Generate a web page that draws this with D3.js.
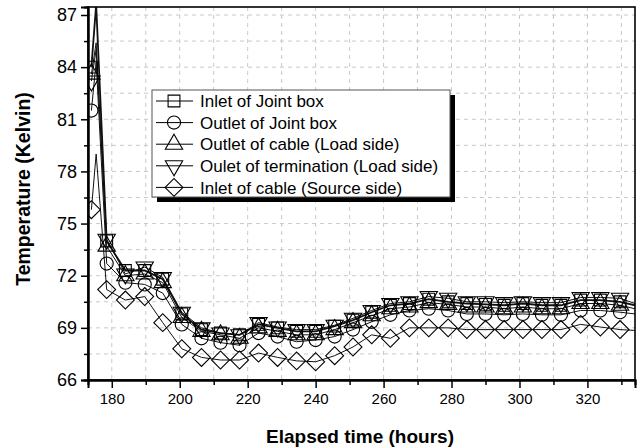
<!DOCTYPE html>
<html>
<head>
<meta charset="utf-8">
<script src="https://cdn.jsdelivr.net/npm/d3@7"></script>
<style>
    body { margin: 0; background: #fff; }
    svg { display: block; font-family: "Liberation Sans", Arial, sans-serif; }
</style>
</head>
<body>
<svg id="chart" width="644" height="447"></svg>
<script>
// marker positions (hours) shared by every series
const hours = [174, 178.5, 184, 189.7, 195, 200.6, 206.4, 212, 217.6, 223.2, 228.8, 234.4, 240, 245.6, 251,
    256.5, 262, 267.6, 273.3, 279, 284.5, 290, 295.5, 301, 306.6, 312.2, 318, 323.8, 329.6];

const inletJointBox = [84.0, 74.0, 72.3, 72.3, 71.8, 69.8, 68.9, 68.7, 68.6, 69.2, 69.0, 68.8, 68.8, 69.1, 69.45,
    69.9, 70.3, 70.4, 70.65, 70.5, 70.4, 70.35, 70.3, 70.4, 70.3, 70.3, 70.6, 70.6, 70.5];
const outletJointBox = [81.5, 72.7, 71.6, 71.5, 71.0, 69.2, 68.4, 68.15, 68.0, 68.7, 68.5, 68.2, 68.3, 68.5, 68.9,
    69.35, 69.75, 70.0, 70.1, 70.0, 69.8, 69.8, 69.75, 69.8, 69.75, 69.75, 70.0, 70.0, 69.9];
const outletCable = [83.6, 73.7, 72.0, 72.1, 71.6, 69.6, 68.8, 68.6, 68.4, 69.0, 68.8, 68.6, 68.6, 68.9, 69.3,
    69.7, 70.1, 70.2, 70.45, 70.35, 70.2, 70.2, 70.1, 70.2, 70.1, 70.1, 70.4, 70.4, 70.3];
const outletTermination = [83.2, 74.1, 72.1, 72.5, 71.9, 69.9, 69.0, 68.7, 68.6, 69.3, 69.05, 68.9, 68.9, 69.15, 69.55,
    70.0, 70.4, 70.5, 70.8, 70.7, 70.5, 70.5, 70.45, 70.5, 70.45, 70.45, 70.75, 70.75, 70.7];
const inletCable = [75.8, 71.2, 70.6, 70.8, 69.3, 67.8, 67.3, 67.15, 67.15, 67.55, 67.3, 67.1, 67.05, 67.4, 67.9,
    68.6, 68.4, 69.0, 69.0, 69.0, 68.9, 68.9, 68.9, 68.9, 68.9, 68.9, 69.2, 69.05, 68.9];

// early transient peak (no marker) and last recorded value (no marker)
const spikeHour = 175.4;
const spikes = [87.6, 84.3, 85.4, 85.0, 79.0];
const endHour = 334;
const endValues = [70.3, 69.8, 70.1, 70.4, 68.85];

const seriesNames = ["Inlet of Joint box", "Outlet of Joint box", "Outlet of cable (Load side)",
    "Oulet of termination (Load side)", "Inlet of cable (Source side)"];
const seriesValues = [inletJointBox, outletJointBox, outletCable, outletTermination, inletCable];
const seriesSymbols = ["square", "circle", "triangle", "triangleDown", "diamond"];

const yTicks = [66, 69, 72, 75, 78, 81, 84, 87];
const yMinorTicks = [67.5, 70.5, 73.5, 76.5, 79.5, 82.5, 85.5];
const xTicks = [180, 200, 220, 240, 260, 280, 300, 320];
const xMinorTicks = [190, 210, 230, 250, 270, 290, 310, 330];

(function () {
    const svg = d3.select("#chart");
    const margin = { top: 7, right: 9, bottom: 67, left: 88 };
    const width = 644 - margin.left - margin.right;
    const height = 447 - margin.top - margin.bottom;

    const x = d3.scaleLinear().domain([173, 334]).range([0, width]);
    const y = d3.scaleLinear().domain([66, 87.46]).range([height, 0]);

    const g = svg.append("g").attr("transform", `translate(${margin.left},${margin.top})`);

    svg.append("defs").append("clipPath").attr("id", "plot-clip")
        .append("rect").attr("width", width).attr("height", height);

    // dashed grid
    const grid = g.append("g").attr("stroke", "#c8c8c8").attr("stroke-dasharray", "4,4").attr("stroke-width", 1);
    grid.selectAll("line.h")
        .data(yTicks.concat(yMinorTicks).filter(v => v > 66))
        .enter().append("line")
        .attr("x1", 0).attr("x2", width)
        .attr("y1", d => y(d)).attr("y2", d => y(d));
    grid.selectAll("line.v")
        .data(xTicks.concat(xMinorTicks))
        .enter().append("line")
        .attr("y1", 0).attr("y2", height)
        .attr("x1", d => x(d)).attr("x2", d => x(d));

    // series lines + hollow markers
    const line = d3.line().x(d => x(d[0])).y(d => y(d[1]));
    const plot = g.append("g").attr("clip-path", "url(#plot-clip)");

    const symbolPath = {
        square: d3.symbol(d3.symbolSquare, 140)(),
        circle: d3.symbol(d3.symbolCircle, 135)(),
        triangle: d3.symbol(d3.symbolTriangle, 130)(),
        triangleDown: d3.symbol(d3.symbolTriangle, 130)(),
        diamond: d3.symbol(d3.symbolSquare, 160)()
    };
    const symbolRotate = { square: 0, circle: 0, triangle: 0, triangleDown: 180, diamond: 45 };

    seriesValues.forEach((vals, i) => {
        const pts = hours.map((h, k) => [h, vals[k]]);
        const linePts = [pts[0], [spikeHour, spikes[i]]].concat(pts.slice(1), [[endHour, endValues[i]]]);
        plot.append("path")
            .attr("d", line(linePts))
            .attr("fill", "none")
            .attr("stroke", "#111")
            .attr("stroke-width", i === 0 ? 1.8 : 1);
    });

    seriesValues.forEach((vals, i) => {
        const sym = seriesSymbols[i];
        plot.selectAll(`path.m${i}`)
            .data(hours.map((h, k) => [h, vals[k]]))
            .enter().append("path")
            .attr("class", `m${i}`)
            .attr("d", symbolPath[sym])
            .attr("transform", d => `translate(${x(d[0])},${y(d[1])}) rotate(${symbolRotate[sym]})`)
            .attr("fill", "none")
            .attr("stroke", "#000")
            .attr("stroke-width", 1.1);
    });

    // frame
    g.append("rect").attr("width", width).attr("height", height)
        .attr("fill", "none").attr("stroke", "#000").attr("stroke-width", 1.6);

    // axes
    const yAxis = g.append("g")
        .call(d3.axisLeft(y).tickValues(yTicks).tickSize(7).tickPadding(4).tickFormat(d3.format("d")));
    g.append("g").call(d3.axisLeft(y).tickValues(yMinorTicks).tickSize(4).tickFormat(""));
    const xAxis = g.append("g").attr("transform", `translate(0,${height})`)
        .call(d3.axisBottom(x).tickValues(xTicks).tickSize(8).tickPadding(5).tickFormat(d3.format("d")));
    g.append("g").attr("transform", `translate(0,${height})`)
        .call(d3.axisBottom(x).tickValues(xMinorTicks).tickSize(5).tickFormat(""));

    g.selectAll(".domain").attr("stroke-width", 2);
    g.selectAll(".tick line").attr("stroke-width", 1.5);
    yAxis.selectAll("text").attr("font-size", "18px").attr("fill", "#000").attr("font-family", "Liberation Sans, Arial");
    xAxis.selectAll("text").attr("font-size", "15px").attr("fill", "#000").attr("font-family", "Liberation Sans, Arial");

    // axis titles
    svg.append("text")
        .attr("transform", "translate(30,189) rotate(-90)")
        .attr("text-anchor", "middle")
        .attr("font-size", "19.5px").attr("font-weight", "bold")
        .text("Temperature (Kelvin)");
    svg.append("text")
        .attr("x", 360).attr("y", 443)
        .attr("text-anchor", "middle")
        .attr("font-size", "19px").attr("font-weight", "bold")
        .text("Elapsed time (hours)");

    // legend with drop shadow
    const lg = svg.append("g").attr("transform", "translate(152,90)");
    const lw = 298, lh = 107;
    lg.append("rect").attr("x", 5).attr("y", 5).attr("width", lw).attr("height", lh).attr("fill", "#000");
    lg.append("rect").attr("width", lw).attr("height", lh)
        .attr("fill", "#fff").attr("stroke", "#555").attr("stroke-width", 1);

    const rows = lg.selectAll("g.row")
        .data(seriesNames)
        .enter().append("g")
        .attr("transform", (d, i) => `translate(0,${11 + i * 21.6})`);
    rows.append("line")
        .attr("x1", 4).attr("x2", 41).attr("y1", 0).attr("y2", 0)
        .attr("stroke", "#000").attr("stroke-width", 1);
    rows.append("path")
        .attr("d", (d, i) => symbolPath[seriesSymbols[i]])
        .attr("transform", (d, i) => `translate(22,0) rotate(${symbolRotate[seriesSymbols[i]]})`)
        .attr("fill", "none").attr("stroke", "#000").attr("stroke-width", 1.1);
    rows.append("text")
        .attr("x", 48).attr("dy", "0.36em")
        .attr("font-size", "17px")
        .text(d => d);
})();
</script>
</body>
</html>
